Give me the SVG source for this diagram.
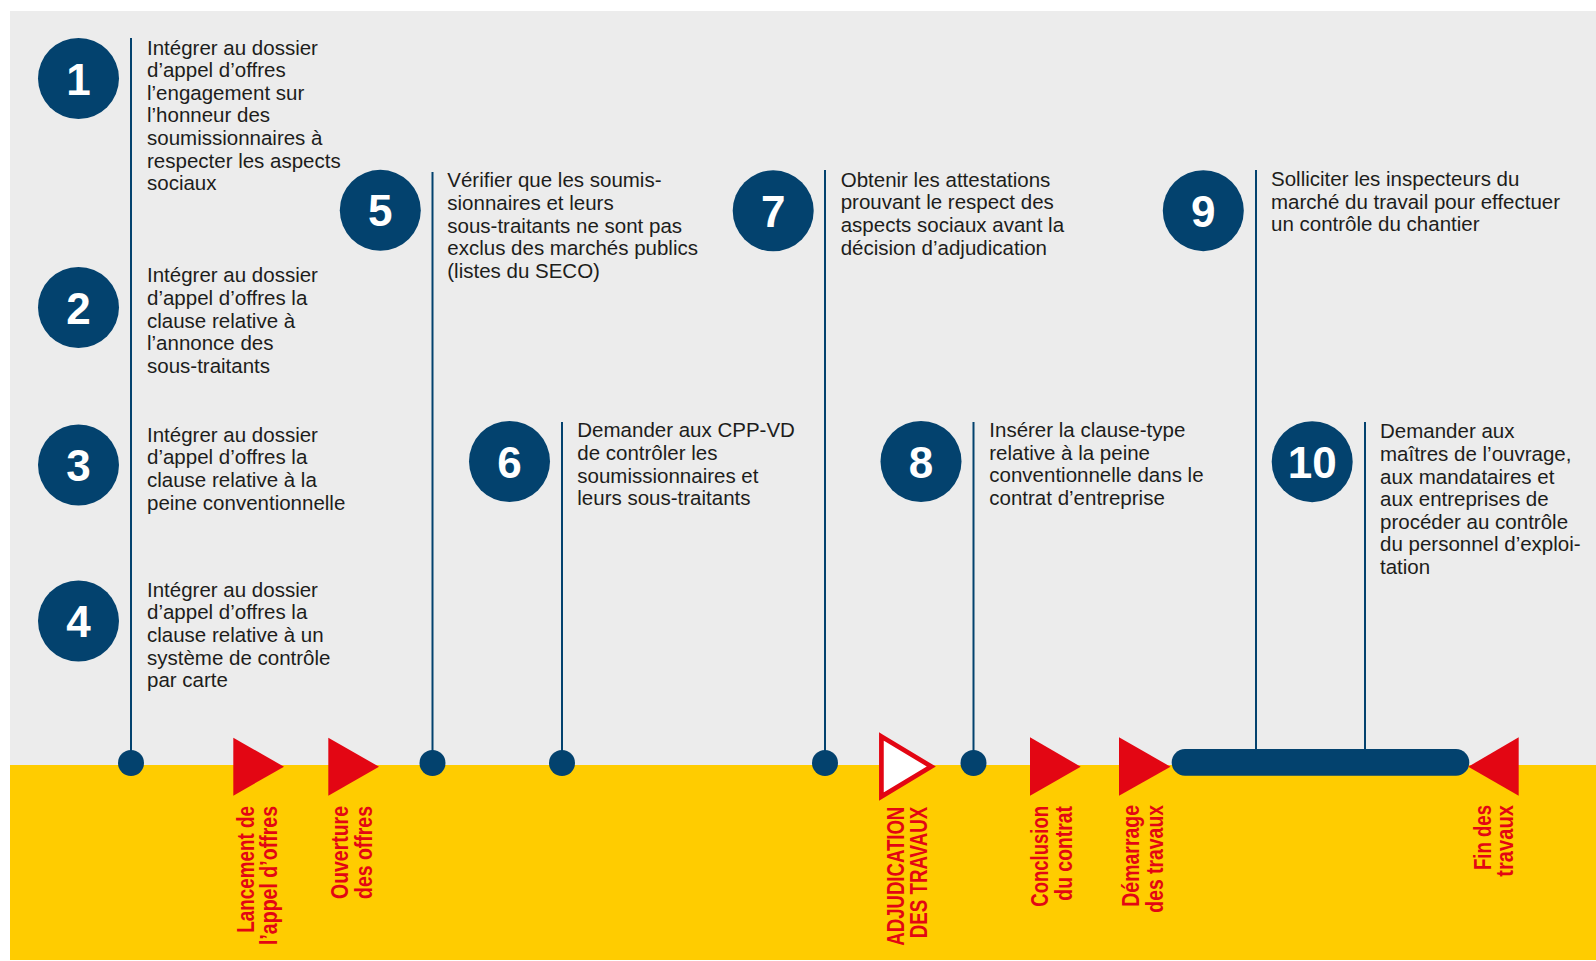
<svg xmlns="http://www.w3.org/2000/svg" width="1596" height="961" viewBox="0 0 1596 961">
<defs>
<style>
.bg{fill:#ececec}
.yel{fill:#ffcc00}
.num-c{fill:#03426e}
.num{font-family:"Liberation Sans",Arial,sans-serif;font-weight:bold;font-size:44px;fill:#ffffff;text-anchor:middle}
.body{font-family:"Liberation Sans",Arial,sans-serif;font-size:20.5px;fill:#1d1d1b}
.conn{stroke:#03426e;stroke-width:2;fill:none}
.dot{fill:#03426e}
.tri{fill:#e30613}
.tri-o{fill:#ffffff;stroke:#e30613;stroke-width:4.7;stroke-linejoin:miter}
.lbl{font-family:"Liberation Sans Narrow","Liberation Sans",Arial,sans-serif;font-weight:bold;font-size:23.5px;fill:#e30613;text-anchor:end}
</style>
</defs>
<rect x="0" y="0" width="1596" height="961" fill="#ffffff"/>
<rect class="bg" x="10" y="11" width="1586" height="754"/>
<rect class="yel" x="10" y="765" width="1586" height="195"/>

<g id="connectors">
<line class="conn" x1="131" y1="38" x2="131" y2="763"/>
<line class="conn" x1="432.5" y1="172" x2="432.5" y2="763"/>
<line class="conn" x1="562" y1="422" x2="562" y2="763"/>
<line class="conn" x1="825" y1="170" x2="825" y2="763"/>
<line class="conn" x1="973.5" y1="422" x2="973.5" y2="763"/>
<line class="conn" x1="1256" y1="170" x2="1256" y2="752"/>
<line class="conn" x1="1365" y1="422" x2="1365" y2="752"/>
</g>

<g id="step1">
<circle class="num-c" cx="78.5" cy="78.5" r="40.5"/>
<text class="num" x="78.5" y="94.5">1</text>
<text class="body" x="147" y="54.5"><tspan x="147">Intégrer au dossier</tspan><tspan x="147" dy="22.6">d’appel d’offres</tspan><tspan x="147" dy="22.6">l’engagement sur</tspan><tspan x="147" dy="22.6">l’honneur des</tspan><tspan x="147" dy="22.6">soumissionnaires à</tspan><tspan x="147" dy="22.6">respecter les aspects</tspan><tspan x="147" dy="22.6">sociaux</tspan></text>
<circle class="dot" cx="131" cy="763" r="13"/>
</g>

<g id="step2">
<circle class="num-c" cx="78.5" cy="307.5" r="40.5"/>
<text class="num" x="78.5" y="323.5">2</text>
<text class="body" x="147" y="282.3"><tspan x="147">Intégrer au dossier</tspan><tspan x="147" dy="22.6">d’appel d’offres la</tspan><tspan x="147" dy="22.6">clause relative à</tspan><tspan x="147" dy="22.6">l’annonce des</tspan><tspan x="147" dy="22.6">sous-traitants</tspan></text>
</g>

<g id="step3">
<circle class="num-c" cx="78.5" cy="465" r="40.5"/>
<text class="num" x="78.5" y="481">3</text>
<text class="body" x="147" y="441.7"><tspan x="147">Intégrer au dossier</tspan><tspan x="147" dy="22.6">d’appel d’offres la</tspan><tspan x="147" dy="22.6">clause relative à la</tspan><tspan x="147" dy="22.6">peine conventionnelle</tspan></text>
</g>

<g id="step4">
<circle class="num-c" cx="78.5" cy="621" r="40.5"/>
<text class="num" x="78.5" y="637">4</text>
<text class="body" x="147" y="596.7"><tspan x="147">Intégrer au dossier</tspan><tspan x="147" dy="22.6">d’appel d’offres la</tspan><tspan x="147" dy="22.6">clause relative à un</tspan><tspan x="147" dy="22.6">système de contrôle</tspan><tspan x="147" dy="22.6">par carte</tspan></text>
</g>

<g id="step5">
<circle class="num-c" cx="380.3" cy="210.3" r="40.5"/>
<text class="num" x="380.3" y="226.3">5</text>
<text class="body" x="447.3" y="187.3"><tspan x="447.3">Vérifier que les soumis-</tspan><tspan x="447.3" dy="22.6">sionnaires et leurs</tspan><tspan x="447.3" dy="22.6">sous-traitants ne sont pas</tspan><tspan x="447.3" dy="22.6">exclus des marchés publics</tspan><tspan x="447.3" dy="22.6">(listes du SECO)</tspan></text>
<circle class="dot" cx="432.5" cy="763" r="13"/>
</g>

<g id="step6">
<circle class="num-c" cx="509.5" cy="461.5" r="40.5"/>
<text class="num" x="509.5" y="477.5">6</text>
<text class="body" x="577.3" y="437.3"><tspan x="577.3">Demander aux CPP-VD</tspan><tspan x="577.3" dy="22.6">de contrôler les</tspan><tspan x="577.3" dy="22.6">soumissionnaires et</tspan><tspan x="577.3" dy="22.6">leurs sous-traitants</tspan></text>
<circle class="dot" cx="562" cy="763" r="13"/>
</g>

<g id="step7">
<circle class="num-c" cx="773.2" cy="210.8" r="40.5"/>
<text class="num" x="773.2" y="226.8">7</text>
<text class="body" x="840.7" y="186.7"><tspan x="840.7">Obtenir les attestations</tspan><tspan x="840.7" dy="22.6">prouvant le respect des</tspan><tspan x="840.7" dy="22.6">aspects sociaux avant la</tspan><tspan x="840.7" dy="22.6">décision d’adjudication</tspan></text>
<circle class="dot" cx="825" cy="763" r="13"/>
</g>

<g id="step8">
<circle class="num-c" cx="921" cy="461.5" r="40.5"/>
<text class="num" x="921" y="477.5">8</text>
<text class="body" x="989.3" y="437"><tspan x="989.3">Insérer la clause-type</tspan><tspan x="989.3" dy="22.6">relative à la peine</tspan><tspan x="989.3" dy="22.6">conventionnelle dans le</tspan><tspan x="989.3" dy="22.6">contrat d’entreprise</tspan></text>
<circle class="dot" cx="973.5" cy="763" r="13"/>
</g>

<g id="step9">
<circle class="num-c" cx="1203.3" cy="210.7" r="40.5"/>
<text class="num" x="1203.3" y="226.7">9</text>
<text class="body" x="1271" y="186"><tspan x="1271">Solliciter les inspecteurs du</tspan><tspan x="1271" dy="22.6">marché du travail pour effectuer</tspan><tspan x="1271" dy="22.6">un contrôle du chantier</tspan></text>
</g>

<g id="step10">
<circle class="num-c" cx="1312.2" cy="461.7" r="40.5"/>
<text class="num" x="1312.2" y="477.7">10</text>
<text class="body" x="1380" y="438.3"><tspan x="1380">Demander aux</tspan><tspan x="1380" dy="22.6">maîtres de l’ouvrage,</tspan><tspan x="1380" dy="22.6">aux mandataires et</tspan><tspan x="1380" dy="22.6">aux entreprises de</tspan><tspan x="1380" dy="22.6">procéder au contrôle</tspan><tspan x="1380" dy="22.6">du personnel d’exploi-</tspan><tspan x="1380" dy="22.6">tation</tspan></text>
</g>

<g id="works-bar">
<rect class="dot" x="1171.7" y="749" width="297.6" height="26.7" rx="13.3"/>
</g>

<g id="m-lancement">
<polygon class="tri" points="233.3,737.7 284,766.7 233.3,795.7"/>
<text class="lbl" transform="translate(254,806) rotate(-90)" textLength="126.7" lengthAdjust="spacingAndGlyphs">Lancement de</text>
<text class="lbl" transform="translate(277,806) rotate(-90)" textLength="139" lengthAdjust="spacingAndGlyphs">l’appel d’offres</text>
</g>

<g id="m-ouverture">
<polygon class="tri" points="328.3,737.7 379,766.7 328.3,795.7"/>
<text class="lbl" transform="translate(348.3,806) rotate(-90)" textLength="93" lengthAdjust="spacingAndGlyphs">Ouverture</text>
<text class="lbl" transform="translate(371.7,806) rotate(-90)" textLength="93" lengthAdjust="spacingAndGlyphs">des offres</text>
</g>

<g id="m-adjudication">
<polygon class="tri-o" points="881.4,736.4 931.3,766.5 881.4,796.6"/>
<text class="lbl" transform="translate(904,806.7) rotate(-90)" textLength="139" lengthAdjust="spacingAndGlyphs">ADJUDICATION</text>
<text class="lbl" transform="translate(926.7,806.7) rotate(-90)" textLength="131.6" lengthAdjust="spacingAndGlyphs">DES TRAVAUX</text>
</g>

<g id="m-conclusion">
<polygon class="tri" points="1030,737.3 1080.7,766.7 1030,795.7"/>
<text class="lbl" transform="translate(1048.3,806) rotate(-90)" textLength="100.7" lengthAdjust="spacingAndGlyphs">Conclusion</text>
<text class="lbl" transform="translate(1072,806) rotate(-90)" textLength="94.7" lengthAdjust="spacingAndGlyphs">du contrat</text>
</g>

<g id="m-demarrage">
<polygon class="tri" points="1119,737.3 1170.5,766.7 1119,795.7"/>
<text class="lbl" transform="translate(1139,805) rotate(-90)" textLength="101.7" lengthAdjust="spacingAndGlyphs">Démarrage</text>
<text class="lbl" transform="translate(1163.3,805) rotate(-90)" textLength="107.7" lengthAdjust="spacingAndGlyphs">des travaux</text>
</g>

<g id="m-fin">
<polygon class="tri" points="1518.7,737.3 1468.3,766.7 1518.7,795.7"/>
<text class="lbl" transform="translate(1490.7,805) rotate(-90)" textLength="65" lengthAdjust="spacingAndGlyphs">Fin des</text>
<text class="lbl" transform="translate(1513.3,805) rotate(-90)" textLength="71.7" lengthAdjust="spacingAndGlyphs">travaux</text>
</g>
</svg>
